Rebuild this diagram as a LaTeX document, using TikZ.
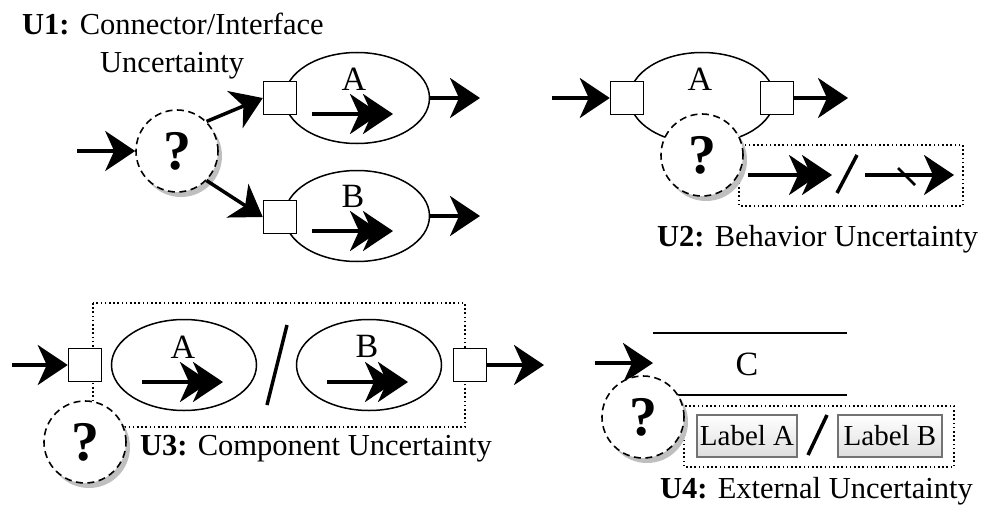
\documentclass[tikz,border=0pt]{standalone}
\usepackage{fontspec}
\setmainfont{Liberation Serif}
\usetikzlibrary{arrows.meta,shapes.geometric,shadows}
\begin{document}
\begin{tikzpicture}[x=1pt,y=-1pt,
  arr/.style={line width=3.5pt,-{Stealth[length=30pt,width=40pt,inset=9pt]}},
  darr/.style={line width=3.5pt,-{Stealth[length=30pt,width=40pt,inset=9pt,sep=-17pt]Stealth[length=30pt,width=40pt,inset=9pt]}},
  slashline/.style={line width=3.5pt},
  comp/.style={ellipse, draw, line width=1.5pt, minimum width=145pt, minimum height=91pt, inner sep=0pt},
  port/.style={draw, fill=white, minimum size=33pt, inner sep=0pt, line width=1.5pt},
  qm/.style={circle, draw, dash pattern=on 7pt off 4.5pt, fill=white, minimum size=82pt, inner sep=0pt, line width=1.6pt,
    font=\fontsize{56}{56}\selectfont\bfseries,
    drop shadow={shadow xshift=4pt, shadow yshift=-5pt, fill=black!25, opacity=1}},
  lbl/.style={inner sep=0pt, font=\fontsize{34}{34}\selectfont},
  ttl/.style={inner sep=0pt, font=\fontsize{30.5}{36}\selectfont},
  dotline/.style={line width=1.6pt, dash pattern=on 1.6pt off 2.6pt},
  labbox/.style={draw=black!55, line width=1.2pt, top color=white, bottom color=black!13, minimum height=42pt, inner sep=0pt, font=\fontsize{29}{29}\selectfont},
  bar/.style={line width=2pt}
]
\useasboundingbox (0,0) rectangle (984,511);

% ---------------- U1 ----------------
\node[comp] (eA1) at (357,98) {};
\node[comp] (eB1) at (357,216) {};
\node[port] (pA1) at (280,98) {};
\node[port] (pB1) at (280,217) {};
\node[lbl, anchor=base] (lA1) at (354,90) {A};
\node[lbl, anchor=base] (lB1) at (353,207) {B};
\node[qm] (q1) at (177,151) {?};
\coordinate (in1) at (77,151);
\draw[arr] (in1) -- (q1.west);
\draw[arr] (q1.45) -- (pA1.west);
\draw[arr] (q1.-45) -- (pB1.west);
\coordinate (oA1) at (480,98);
\coordinate (oB1) at (480,216);
\draw[arr] (eA1.east) -- (oA1);
\draw[arr] (eB1.east) -- (oB1);
\draw[darr] (312,114) -- (393,114);
\draw[darr] (312,231) -- (393,231);
\node[ttl, anchor=base west] (t1a) at (22,35) {\textbf{U1:} Connector/Interface};
\node[ttl, anchor=base west] (t1b) at (100,72) {Uncertainty};

% ---------------- U2 ----------------
\node[comp] (e2) at (702,98) {};
\node[lbl, anchor=base] (l2) at (700,90) {A};
\node[port] (p2a) at (627,98) {};
\node[port] (p2b) at (777,98) {};
\coordinate (in2) at (552,98);
\coordinate (o2) at (848,98);
\draw[arr] (in2) -- (p2a.west);
\draw[arr] (p2b.east) -- (o2);
\draw[dotline] (739,145) rectangle (963,206);
\node[qm] (q2) at (702,155) {?};
\draw[darr] (748,175) -- (832,175);
\draw[slashline] (857,155) -- (837,193);
\draw[arr] (865,175) -- (954,175);
\draw[line width=2.5pt] (898,168) -- (915,185);
\node[ttl, anchor=base west] (t2) at (657,246) {\textbf{U2:} Behavior Uncertainty};

% ---------------- U3 ----------------
\draw[dotline] (93,303) rectangle (465,427);
\node[comp] (eA3) at (184,365) {};
\node[comp] (eB3) at (369,365) {};
\node[lbl, anchor=base] (lA3) at (183,358) {A};
\node[lbl, anchor=base] (lB3) at (367,357) {B};
\draw[darr] (142,382) -- (223,382);
\draw[darr] (327,382) -- (408,382);
\draw[slashline] (287,325) -- (267,405);
\node[port] (p3a) at (85,365) {};
\node[port] (p3b) at (470,365) {};
\coordinate (in3) at (12,365);
\coordinate (o3) at (544,365);
\draw[arr] (in3) -- (p3a.west);
\draw[arr] (p3b.east) -- (o3);
\node[qm] (q3) at (85,442) {?};
\node[ttl, anchor=base west] (t3) at (140,455) {\textbf{U3:} Component Uncertainty};

% ---------------- U4 ----------------
\coordinate (in4) at (595,363);
\coordinate (c4w) at (653,363);
\draw[arr] (in4) -- (c4w);
\draw[bar] (653,333) -- (847,333);
\draw[bar] (653,395) -- (847,395);
\node[lbl, anchor=base] (c4) at (747,375) {C};
\draw[dotline] (684,406) rectangle (954,467);
\node[qm] (q4) at (643,417) {?};
\node[labbox, minimum width=100pt] (la) at (747,436) {Label A};
\node[labbox, minimum width=104pt] (lb) at (890,436) {Label B};
\draw[slashline] (827,415) -- (808,455);
\node[ttl, anchor=base west] (t4) at (660,498) {\textbf{U4:} External Uncertainty};
\end{tikzpicture}
\end{document}
